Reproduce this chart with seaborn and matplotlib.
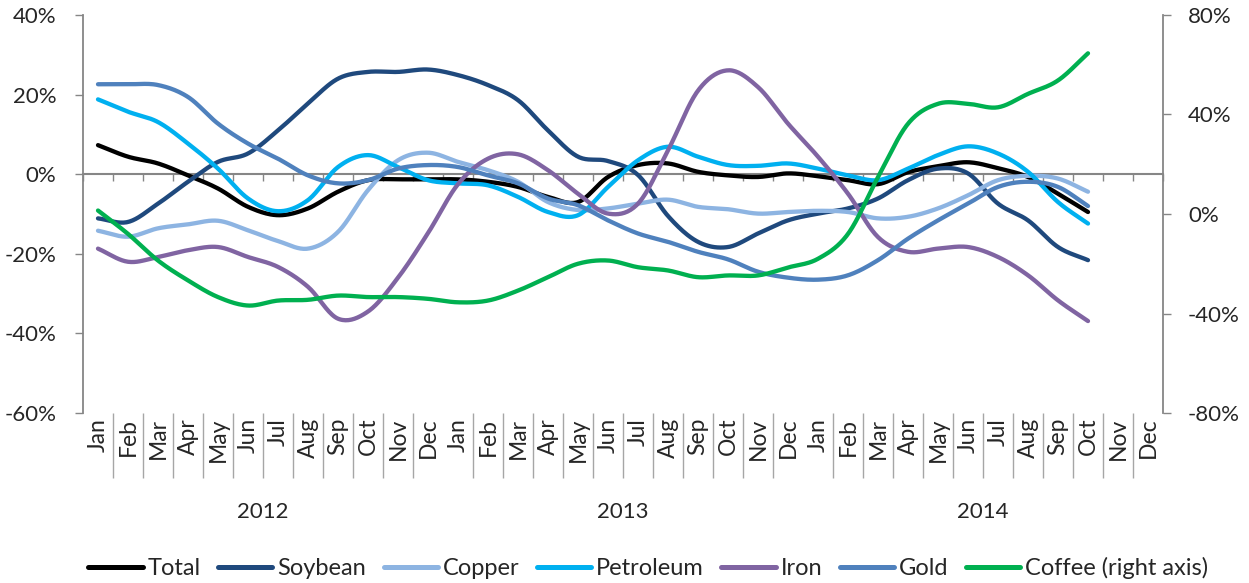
import numpy as np
import pandas as pd
import matplotlib
matplotlib.use("Agg")
import matplotlib.pyplot as plt
from matplotlib.lines import Line2D
import seaborn as sns

# Monthly % change, Jan 2012 - Oct 2014
months = ['Jan', 'Feb', 'Mar', 'Apr', 'May', 'Jun', 'Jul', 'Aug', 'Sep', 'Oct', 'Nov', 'Dec']
years = ['2012', '2013', '2014']

total = [7.3, 4.4, 2.7, -0.3, -3.6, -8.2, -10.3, -8.6, -4.4, -1.5, -1.3, -1.3,
         -1.3, -1.9, -3.2, -5.7, -7.0, -0.7, 2.3, 2.7, 0.6, -0.3, -0.7, 0.2,
         -0.5, -1.5, -2.5, 0.5, 2.0, 3.0, 1.5, -0.7, -4.9, -9.5]
soybean = [-11.1, -12.0, -7.4, -1.9, 3.1, 5.2, 11.0, 17.8, 24.0, 25.7, 25.7, 26.3,
           24.9, 22.4, 18.6, 11.0, 4.4, 3.3, -0.2, -10.5, -17.0, -18.3, -14.9, -11.6,
           -9.9, -8.6, -6.1, -1.5, 1.4, 0.2, -7.4, -11.6, -18.3, -21.6]
copper = [-14.2, -15.7, -13.6, -12.6, -11.7, -14.1, -16.8, -18.7, -14.5, -4.0, 3.5, 5.4,
          3.1, 1.0, -1.9, -7.0, -9.0, -8.6, -7.4, -6.4, -8.2, -8.8, -9.9, -9.5,
          -9.2, -9.5, -11.1, -10.7, -8.6, -5.3, -1.5, -0.4, -1.1, -4.4]
petroleum = [18.8, 15.7, 13.1, 7.7, 1.4, -6.1, -9.3, -6.5, 1.8, 4.8, 1.8, -1.5,
             -2.3, -2.8, -5.7, -9.5, -10.3, -3.2, 3.5, 6.9, 4.4, 2.3, 2.1, 2.7,
             1.4, -0.3, -1.5, 1.4, 4.8, 7.0, 5.2, 0.6, -7.0, -12.4]
iron = [-18.7, -22.0, -20.8, -19.1, -18.3, -20.8, -23.3, -28.3, -36.3, -34.5, -26.0, -14.8,
        -2.5, 3.9, 5.0, 1.0, -4.9, -9.9, -7.4, 6.0, 21.0, 26.1, 21.9, 12.7,
        4.4, -4.9, -15.8, -19.5, -18.7, -18.3, -20.8, -25.4, -31.7, -36.9]
gold = [22.6, 22.6, 22.4, 19.4, 12.7, 7.7, 3.9, -0.3, -2.3, -1.5, 1.4, 2.3,
        1.8, -0.3, -2.3, -6.1, -7.8, -11.6, -14.9, -17.0, -19.5, -21.4, -24.5, -26.0,
        -26.5, -25.4, -21.6, -16.2, -11.6, -7.4, -3.2, -1.9, -3.2, -8.0]
coffee = [1.4, -8.0, -18.7, -26.7, -33.4, -36.8, -34.8, -34.5, -32.8, -33.4, -33.4, -34.1,
          -35.5, -34.8, -30.8, -25.4, -20.0, -18.7, -21.4, -22.7, -25.4, -24.7, -24.7, -21.5,
          -18.0, -8.0, 14.8, 36.3, 44.3, 44.3, 42.9, 48.3, 53.7, 64.6]

left_series = {'Total': total, 'Soybean': soybean, 'Copper': copper,
               'Petroleum': petroleum, 'Iron': iron, 'Gold': gold}
colors = {'Total': '#000000', 'Soybean': '#1f497d', 'Copper': '#8db4e2',
          'Petroleum': '#00b0f0', 'Iron': '#8064a2', 'Gold': '#4f81bd',
          'Coffee (right axis)': '#00b050'}


def smooth(vals, n=20):
    # Excel-style smoothed line (Catmull-Rom through the data points)
    y = np.asarray(vals, float)
    p = np.concatenate([[2 * y[0] - y[1]], y, [2 * y[-1] - y[-2]]])
    xs, ys = [], []
    t = np.linspace(0, 1, n, endpoint=False)
    for i in range(len(y) - 1):
        p0, p1, p2, p3 = p[i], p[i + 1], p[i + 2], p[i + 3]
        seg = 0.5 * (2 * p1 + (p2 - p0) * t + (2 * p0 - 5 * p1 + 4 * p2 - p3) * t ** 2
                     + (-p0 + 3 * p1 - 3 * p2 + p3) * t ** 3)
        xs.extend(i + t)
        ys.extend(seg)
    xs.append(len(y) - 1)
    ys.append(y[-1])
    return np.array(xs), np.array(ys)


frames = []
for name, vals in left_series.items():
    sx, sy = smooth(vals)
    frames.append(pd.DataFrame({'x': sx, 'value': sy, 'series': name}))
df_left = pd.concat(frames, ignore_index=True)
cx, cy = smooth(coffee)
df_coffee = pd.DataFrame({'x': cx, 'value': cy})

sns.set_theme(style='white')
plt.rcParams['font.family'] = ['Lato', 'DejaVu Sans']
gray = '#868686'

fig, ax = plt.subplots(figsize=(12.49, 5.83), dpi=100)
fig.subplots_adjust(left=83 / 1249, right=1163 / 1249, top=1 - 15 / 583, bottom=1 - 413 / 583)

sns.lineplot(data=df_left, x='x', y='value', hue='series', hue_order=list(left_series),
             palette=colors, estimator=None, sort=False, linewidth=3.1, legend=False, ax=ax)
ax2 = ax.twinx()
sns.lineplot(data=df_coffee, x='x', y='value', color=colors['Coffee (right axis)'],
             estimator=None, sort=False, linewidth=3.1, ax=ax2)

ax.set_xlim(-0.5, 35.5)
ax.set_ylim(-60, 40)
ax2.set_ylim(-80, 80)
ax.set_xlabel('')
ax.set_ylabel('')
ax2.set_ylabel('')

ax.set_yticks(range(-60, 41, 20))
ax.set_yticklabels([f'{v}%' for v in range(-60, 41, 20)])
ax2.set_yticks(range(-80, 81, 40))
ax2.set_yticklabels([f'{v}%' for v in range(-80, 81, 40)])
ax.tick_params(axis='y', direction='out', length=6, width=1, color=gray, pad=13, labelsize=16, left=True)
ax2.tick_params(axis='y', direction='out', length=6, width=1, color=gray, pad=12, labelsize=16, right=True)

for s in ['top', 'bottom', 'right']:
    ax.spines[s].set_visible(False)
for s in ['top', 'bottom', 'left']:
    ax2.spines[s].set_visible(False)
ax.spines['left'].set_color(gray)
ax.spines['left'].set_linewidth(1.3)
ax2.spines['right'].set_color(gray)
ax2.spines['right'].set_linewidth(1.3)

# category axis: year separators (long) and month separators (short)
bounds = np.arange(-0.5, 36, 1)
year_bounds = bounds[::12]
month_bounds = [b for b in bounds if b not in year_bounds]
ax.set_xticks(year_bounds)
ax.set_xticks(month_bounds, minor=True)
ax.tick_params(axis='x', which='major', direction='out', length=84, width=1, color=gray,
               labelbottom=False, bottom=True)
ax.tick_params(axis='x', which='minor', direction='out', length=47, width=1, color='#a6a6a6',
               labelbottom=False, bottom=True)
ax2.set_xticks([])

for i in range(36):
    ax.text(i, -0.012, months[i % 12], transform=ax.get_xaxis_transform(),
            rotation=90, ha='center', va='top', fontsize=16.5)
for k, yr in enumerate(years):
    ax.text(12 * k + 5.5, -0.249, yr, transform=ax.get_xaxis_transform(),
            ha='center', va='center', fontsize=16)

# zero line with tick marks
zero = ax.secondary_xaxis(0.6)
zero.set_xticks(bounds)
zero.set_xticklabels([])
zero.tick_params(direction='in', length=5, width=1, color=gray)
for s in ['top', 'bottom']:
    zero.spines[s].set_color(gray)
    zero.spines[s].set_linewidth(1.5)

handles = [Line2D([], [], color=colors[n], lw=3.6) for n in colors]
fig.legend(handles, list(colors), loc='center', bbox_to_anchor=(0.519, 1 - 568 / 583), ncol=7,
           frameon=False, fontsize=17, handlelength=2.3, handletextpad=0.2, columnspacing=0.75)

fig.savefig('out.png', dpi=100)
